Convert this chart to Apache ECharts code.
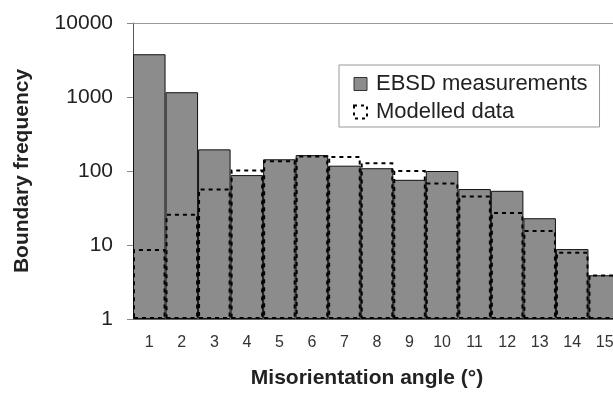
<!DOCTYPE html>
<html>
<head>
<meta charset="utf-8">
<script src="https://cdn.jsdelivr.net/npm/echarts@6/dist/echarts.min.js"></script>
<style>
  html, body { margin: 0; padding: 0; background: #fff; overflow: hidden; }
  /* the original figure is cropped on the right, through the last bar */
  #chart { width: 621px; height: 394px; }
</style>
</head>
<body>
<div id="chart"></div>
<script>
// misorientation angle bins (degrees)
var angles = ['1', '2', '3', '4', '5', '6', '7', '8', '9', '10', '11', '12', '13', '14', '15'];
// measured boundary frequency
var ebsd = [3780, 1160, 196, 88, 144, 164, 118, 109, 76, 100, 57, 54, 23, 8.8, 3.9];
// modelled boundary frequency
var modelled = [8.8, 26.5, 58, 105, 140, 162, 160, 131, 103, 70, 46.5, 28, 16, 8.1, 4.0];

var font = 'Liberation Sans, Arial, Helvetica, sans-serif';

var chart = echarts.init(document.getElementById('chart'));
chart.setOption({
  animation: false,
  textStyle: { fontFamily: font },
  grid: { left: 133, top: 23, bottom: 75, right: 0 },
  legend: {
    orient: 'vertical',
    left: 339,
    top: 65,
    padding: [8, 12, 4, 14],
    itemGap: 6,
    itemWidth: 13,
    itemHeight: 13,
    icon: 'rect',
    borderColor: '#999',
    borderWidth: 1,
    textStyle: { fontSize: 22, color: '#222', fontFamily: font, padding: [0, 0, 0, 4] },
    data: [
      { name: 'EBSD measurements', itemStyle: { color: '#8c8c8c', borderColor: '#333', borderWidth: 1 } },
      { name: 'Modelled data', itemStyle: { color: 'rgba(0,0,0,0)', borderColor: '#000', borderWidth: 2, borderType: [3, 4] } }
    ]
  },
  xAxis: [
    {
      type: 'category',
      data: angles,
      name: 'Misorientation angle (°)',
      nameLocation: 'middle',
      nameGap: 49,
      nameTextStyle: { fontSize: 21, fontWeight: 'bold', color: '#222', fontFamily: font, padding: [0, 20, 0, 0] },
      axisLine: { lineStyle: { color: '#666' } },
      axisTick: { length: 8, lineStyle: { color: '#888' } },
      axisLabel: { fontSize: 16, color: '#333', margin: 16 }
    },
    {
      type: 'category',
      data: angles,
      position: 'top',
      axisLine: { lineStyle: { color: '#999' } },
      axisTick: { show: false },
      axisLabel: { show: false }
    }
  ],
  yAxis: {
    type: 'log',
    min: 1,
    max: 10000,
    logBase: 10,
    name: 'Boundary frequency',
    nameLocation: 'middle',
    nameGap: 100,
    nameTextStyle: { fontSize: 21, fontWeight: 'bold', color: '#222', fontFamily: font },
    axisLine: { show: true, lineStyle: { color: '#555' } },
    axisTick: { show: true, length: 6, lineStyle: { color: '#888' } },
    axisLabel: { fontSize: 21, color: '#222', margin: 20, formatter: function (v) { return String(v); } },
    splitLine: { show: false }
  },
  series: [
    {
      name: 'EBSD measurements',
      type: 'bar',
      data: ebsd,
      barCategoryGap: 0,
      itemStyle: { color: '#8c8c8c', borderColor: '#111', borderWidth: 1 }
    },
    {
      name: 'Modelled data',
      type: 'bar',
      data: modelled,
      barGap: '-100%',
      barCategoryGap: 0,
      z: 3,
      itemStyle: {
        color: 'rgba(0,0,0,0)',
        borderColor: '#000',
        borderWidth: 2,
        borderType: [4, 4]
      }
    }
  ]
});
</script>
</body>
</html>
